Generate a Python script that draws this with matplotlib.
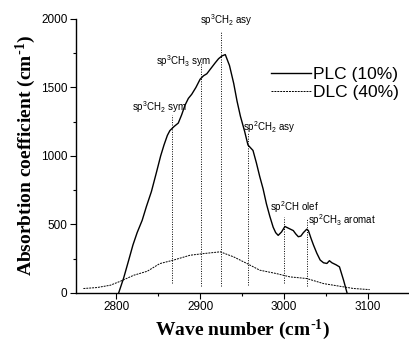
import matplotlib

matplotlib.use("Agg")
import matplotlib.pyplot as plt
import numpy as np

plt.rcParams["font.family"] = ["Liberation Sans", "DejaVu Sans"]
plt.rcParams["mathtext.default"] = "regular"

plc_wn = [2803, 2809, 2815, 2820, 2825, 2831, 2836, 2842, 2848, 2853, 2857,
          2861, 2864, 2869, 2874, 2878, 2882, 2886, 2890, 2895, 2900, 2904,
          2908, 2913, 2918, 2922, 2926, 2930, 2935, 2940, 2944, 2948, 2953,
          2957, 2963, 2967, 2971, 2975, 2979, 2983, 2987, 2990, 2993, 2997,
          3001, 3006, 3011, 3014, 3017, 3020, 3023, 3027, 3029, 3032, 3035,
          3039, 3043, 3047, 3051, 3054, 3057, 3062, 3066, 3068, 3071, 3075]
plc_abs = [0, 110, 240, 350, 440, 530, 630, 740, 880, 1000, 1080,
           1150, 1185, 1215, 1240, 1300, 1370, 1420, 1450, 1500, 1560, 1585,
           1600, 1640, 1680, 1710, 1730, 1740, 1660, 1530, 1400, 1290, 1180,
           1080, 1040, 950, 850, 760, 650, 560, 480, 440, 420, 445,
           485, 470, 455, 430, 410, 415, 440, 465, 455, 400, 350,
           290, 240, 220, 215, 235, 220, 205, 190, 150, 90, 0]

# DLC (40%) spectrum
dlc_wn = [2761, 2777, 2793, 2805, 2821, 2837, 2852, 2868, 2888, 2904, 2924,
          2940, 2956, 2971, 2991, 3007, 3027, 3047, 3071, 3083, 3102]
dlc_abs = [32, 39, 56, 85, 129, 158, 214, 239, 275, 287, 300,
           263, 214, 166, 141, 117, 105, 68, 44, 32, 24]

# band assignments: position, line top, line bottom, label, label x, label y
band_wn = [2867, 2901, 2925, 2957, 3000, 3027]
band_top = [1298, 1688, 1902, 1164, 555, 543]
band_bot = [75, 51, 51, 56, 75, 51]
band_labels = [r"sp$^3$CH$_2$ sym", r"sp$^3$CH$_3$ sym", r"sp$^3$CH$_2$ asy",
               r"sp$^2$CH$_2$ asy", r"sp$^2$CH olef", r"sp$^2$CH$_3$ aromat"]
label_x = [2852, 2880, 2931, 2983, 3013, 3069]
label_y = [1359, 1690, 1990, 1210, 630, 530]

fig = plt.figure(figsize=(4.1, 3.45), dpi=100)
ax = fig.add_axes([0.185, 0.151, 0.815, 0.794])

ax.plot(plc_wn, plc_abs, color="black", lw=1.0, label="PLC (10%)")
ax.plot(dlc_wn, dlc_abs, color="black", lw=0.7, ls=(0, (2, 1)), label="DLC (40%)")

for wn, top, bot in zip(band_wn, band_top, band_bot):
    ax.plot([wn, wn], [bot, top], color="black", lw=0.7, ls=(0, (1, 1.5)))
for txt, x, y in zip(band_labels, label_x, label_y):
    ax.text(x, y, txt, fontsize=7, ha="center", va="center")

ax.set_xlim(2752, 3150)
ax.set_ylim(0, 2000)
ax.set_xticks([2800, 2900, 3000, 3100])
ax.set_xticks([2850, 2950, 3050], minor=True)
ax.set_yticks([0, 500, 1000, 1500, 2000])
ax.set_yticks([250, 750, 1250, 1750], minor=True)
ax.tick_params(labelsize=8.5, direction="out", length=4, width=0.8, pad=2)
ax.tick_params(which="minor", direction="out", length=2.5, width=0.8)
for s in ["top", "right"]:
    ax.spines[s].set_visible(False)
ax.spines["left"].set_linewidth(1.0)
ax.spines["bottom"].set_linewidth(1.0)

ax.set_xlabel(r"Wave number (cm$^{\text{-}1}$)", family="Liberation Serif",
              weight="bold", fontsize=14, labelpad=3)
ax.set_ylabel(r"Absorbtion coefficient (cm$^{\text{-}1}$)", family="Liberation Serif",
              weight="bold", fontsize=14, labelpad=2)

ax.legend(loc="upper left", bbox_to_anchor=(0.563, 0.85), frameon=False,
          fontsize=12.5, handlelength=2.3, handletextpad=0.1, labelspacing=0.15,
          borderaxespad=0)

fig.savefig("out.png", dpi=100)
